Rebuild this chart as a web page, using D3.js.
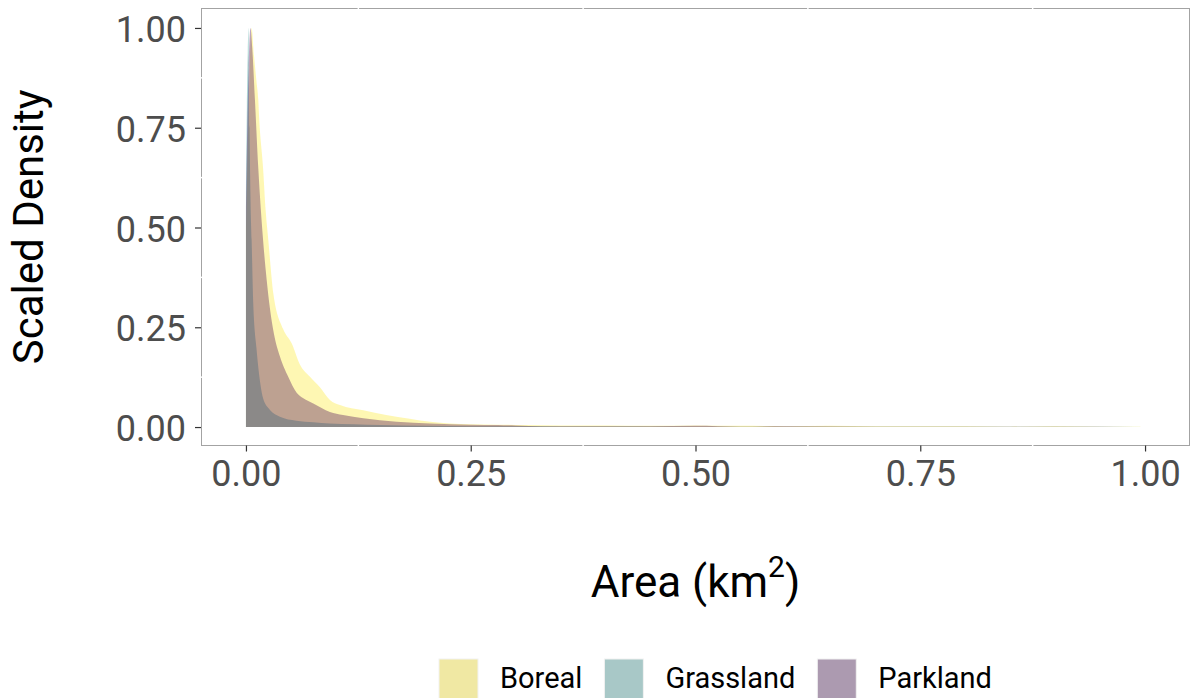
<!DOCTYPE html>
<html>
<head>
<meta charset="utf-8">
<script src="https://cdn.jsdelivr.net/npm/d3@7"></script>
<style>
  html, body { margin: 0; padding: 0; background: #fff; }
  svg { display: block; font-family: Roboto, "Open Sans", sans-serif; }
</style>
</head>
<body>
<svg id="chart" width="1191" height="698"></svg>
<script>
// series names and colours (drawn with alpha, same as the density layers)
const regions = ['Boreal', 'Grassland', 'Parkland'];
const regionFill = ['#FDE725', '#21908C', '#440154'];
const legendFill = ['#F0E8A3', '#A8C8C7', '#AC9AB0'];

// Boreal density curve
const borealArea = [0, 0.002, 0.004, 0.0063, 0.009, 0.0115, 0.0137, 0.0148, 0.019, 0.022, 0.0248, 0.0304, 0.0415, 0.0508, 0.060, 0.0712, 0.0823, 0.0934, 0.1046, 0.1305, 0.156, 0.182, 0.205, 0.227, 0.25, 0.28, 0.31, 0.35, 0.40, 0.45, 0.50, 0.55, 0.60, 0.65, 0.70, 0.75, 0.80, 0.85, 0.90, 0.95, 0.995];
const borealDensity = [0.50, 0.70, 0.88, 1.00, 0.93, 0.87, 0.82, 0.77, 0.65, 0.54, 0.47, 0.335, 0.245, 0.21, 0.157, 0.126, 0.10, 0.068, 0.055, 0.042, 0.030, 0.021, 0.013, 0.009, 0.007, 0.006, 0.005, 0.004, 0.004, 0.003, 0.004, 0.003, 0.002, 0.003, 0.002, 0.002, 0.002, 0.001, 0.002, 0.001, 0.0005];

// Grassland density curve
const grasslandArea = [0, 0.001, 0.002, 0.003, 0.004, 0.005, 0.0063, 0.0081, 0.0118, 0.0156, 0.0193, 0.0267, 0.0378, 0.056, 0.075, 0.093, 0.12, 0.15, 0.20, 0.25, 0.35, 0.50, 0.70, 0.90, 1.0];
const grasslandDensity = [0.58, 0.80, 0.94, 1.00, 0.75, 0.58, 0.47, 0.31, 0.195, 0.115, 0.070, 0.043, 0.026, 0.016, 0.012, 0.009, 0.007, 0.005, 0.003, 0.002, 0.0015, 0.001, 0.0008, 0.0005, 0];

// Parkland density curve
const parklandArea = [0, 0.0015, 0.003, 0.005, 0.007, 0.010, 0.0137, 0.019, 0.023, 0.0265, 0.031, 0.0378, 0.047, 0.0564, 0.0638, 0.0749, 0.0934, 0.108, 0.1305, 0.1676, 0.205, 0.25, 0.28, 0.30, 0.33, 0.40, 0.45, 0.50, 0.55, 0.60, 0.70, 0.80, 0.90, 0.99];
const parklandDensity = [0.55, 0.76, 0.90, 1.00, 0.95, 0.82, 0.65, 0.47, 0.37, 0.30, 0.235, 0.177, 0.126, 0.086, 0.072, 0.059, 0.038, 0.030, 0.022, 0.013, 0.009, 0.006, 0.005, 0.004, 0.002, 0.002, 0.002, 0.003, 0.001, 0.002, 0.001, 0.001, 0.001, 0];

// axis ticks
const xTicks = [0, 0.25, 0.5, 0.75, 1];
const yTicks = [0, 0.25, 0.5, 0.75, 1];
const minorTicks = [0.125, 0.375, 0.625, 0.875];

const svg = d3.select('#chart');

// panel bounds
const panel = { left: 201, right: 1190, top: 8, bottom: 447 };

const x = d3.scaleLinear().domain([-0.05, 1.05]).range([panel.left, panel.right]);
const y = d3.scaleLinear().domain([-0.05, 1.05]).range([panel.bottom, panel.top]);

const series = [
  { name: regions[0], xs: borealArea, ys: borealDensity },
  { name: regions[1], xs: grasslandArea, ys: grasslandDensity },
  { name: regions[2], xs: parklandArea, ys: parklandDensity }
];

// density areas
const area = d3.area()
  .x(d => x(d[0]))
  .y0(y(0))
  .y1(d => y(d[1]))
  .curve(d3.curveMonotoneX);

svg.append('g')
  .selectAll('path')
  .data(series)
  .join('path')
  .attr('d', s => area(s.xs.map((v, i) => [v, s.ys[i]])))
  .attr('fill', (s, i) => regionFill[i])
  .attr('fill-opacity', 0.35)
  .attr('stroke', 'none');

// panel border
svg.append('rect')
  .attr('x', panel.left + 0.5)
  .attr('y', panel.top + 0.5)
  .attr('width', panel.right - panel.left - 1)
  .attr('height', y(-0.05) - panel.top - 2)
  .attr('fill', 'none')
  .attr('stroke', '#A3A3A3')
  .attr('stroke-width', 1);

const borderBottom = y(-0.05) - 1.5;

// small white breaks where the minor grid meets the border
const gaps = svg.append('g').attr('stroke', '#fff').attr('stroke-width', 1.5);
minorTicks.forEach(t => {
  gaps.append('line').attr('x1', x(t)).attr('x2', x(t)).attr('y1', panel.top - 1).attr('y2', panel.top + 2);
  gaps.append('line').attr('x1', x(t)).attr('x2', x(t)).attr('y1', borderBottom - 2).attr('y2', borderBottom + 1);
  gaps.append('line').attr('x1', panel.left - 1).attr('x2', panel.left + 2).attr('y1', y(t)).attr('y2', y(t));
});

// x axis
const xAxis = svg.append('g')
  .attr('transform', `translate(0, ${borderBottom})`)
  .call(d3.axisBottom(x).tickValues(xTicks).tickFormat(d3.format('.2f')).tickSize(6).tickPadding(9));
xAxis.select('.domain').remove();
xAxis.selectAll('.tick line').attr('stroke', '#333').attr('stroke-width', 1.2);
xAxis.selectAll('.tick text')
  .attr('fill', '#4D4D4D')
  .style('font-size', '36px')
  .style('font-family', 'Roboto, sans-serif');

// y axis
const yAxis = svg.append('g')
  .attr('transform', `translate(${panel.left}, 0)`)
  .call(d3.axisLeft(y).tickValues(yTicks).tickFormat(d3.format('.2f')).tickSize(6).tickPadding(9));
yAxis.select('.domain').remove();
yAxis.selectAll('.tick line').attr('stroke', '#333').attr('stroke-width', 1.2);
yAxis.selectAll('.tick text')
  .attr('fill', '#4D4D4D')
  .attr('dy', '0.38em')
  .style('font-size', '36px')
  .style('font-family', 'Roboto, sans-serif');

// axis titles
svg.append('text')
  .attr('transform', `translate(43, ${(panel.top + borderBottom) / 2}) rotate(-90)`)
  .attr('text-anchor', 'middle')
  .attr('fill', '#000')
  .style('font-size', '42px')
  .text('Scaled Density');

const xTitle = svg.append('text')
  .attr('x', (panel.left + panel.right) / 2)
  .attr('y', 597)
  .attr('text-anchor', 'middle')
  .attr('fill', '#000')
  .style('font-size', '44px');
xTitle.append('tspan').text('Area (km');
xTitle.append('tspan').attr('dy', -20).style('font-size', '30px').text('2');
xTitle.append('tspan').attr('dy', 20).text(')');

// legend
const legend = svg.append('g');
let lx = 439;
regions.forEach((name, i) => {
  legend.append('rect')
    .attr('x', lx)
    .attr('y', 659)
    .attr('width', 39)
    .attr('height', 40)
    .attr('fill', legendFill[i])
    .attr('stroke', '#F2F2F2')
    .attr('stroke-width', 1);
  const t = legend.append('text')
    .attr('x', lx + 61)
    .attr('y', 688)
    .attr('fill', '#000')
    .style('font-size', '29px')
    .text(name);
  lx += 61 + t.node().getComputedTextLength() + 22;
});
</script>
</body>
</html>
